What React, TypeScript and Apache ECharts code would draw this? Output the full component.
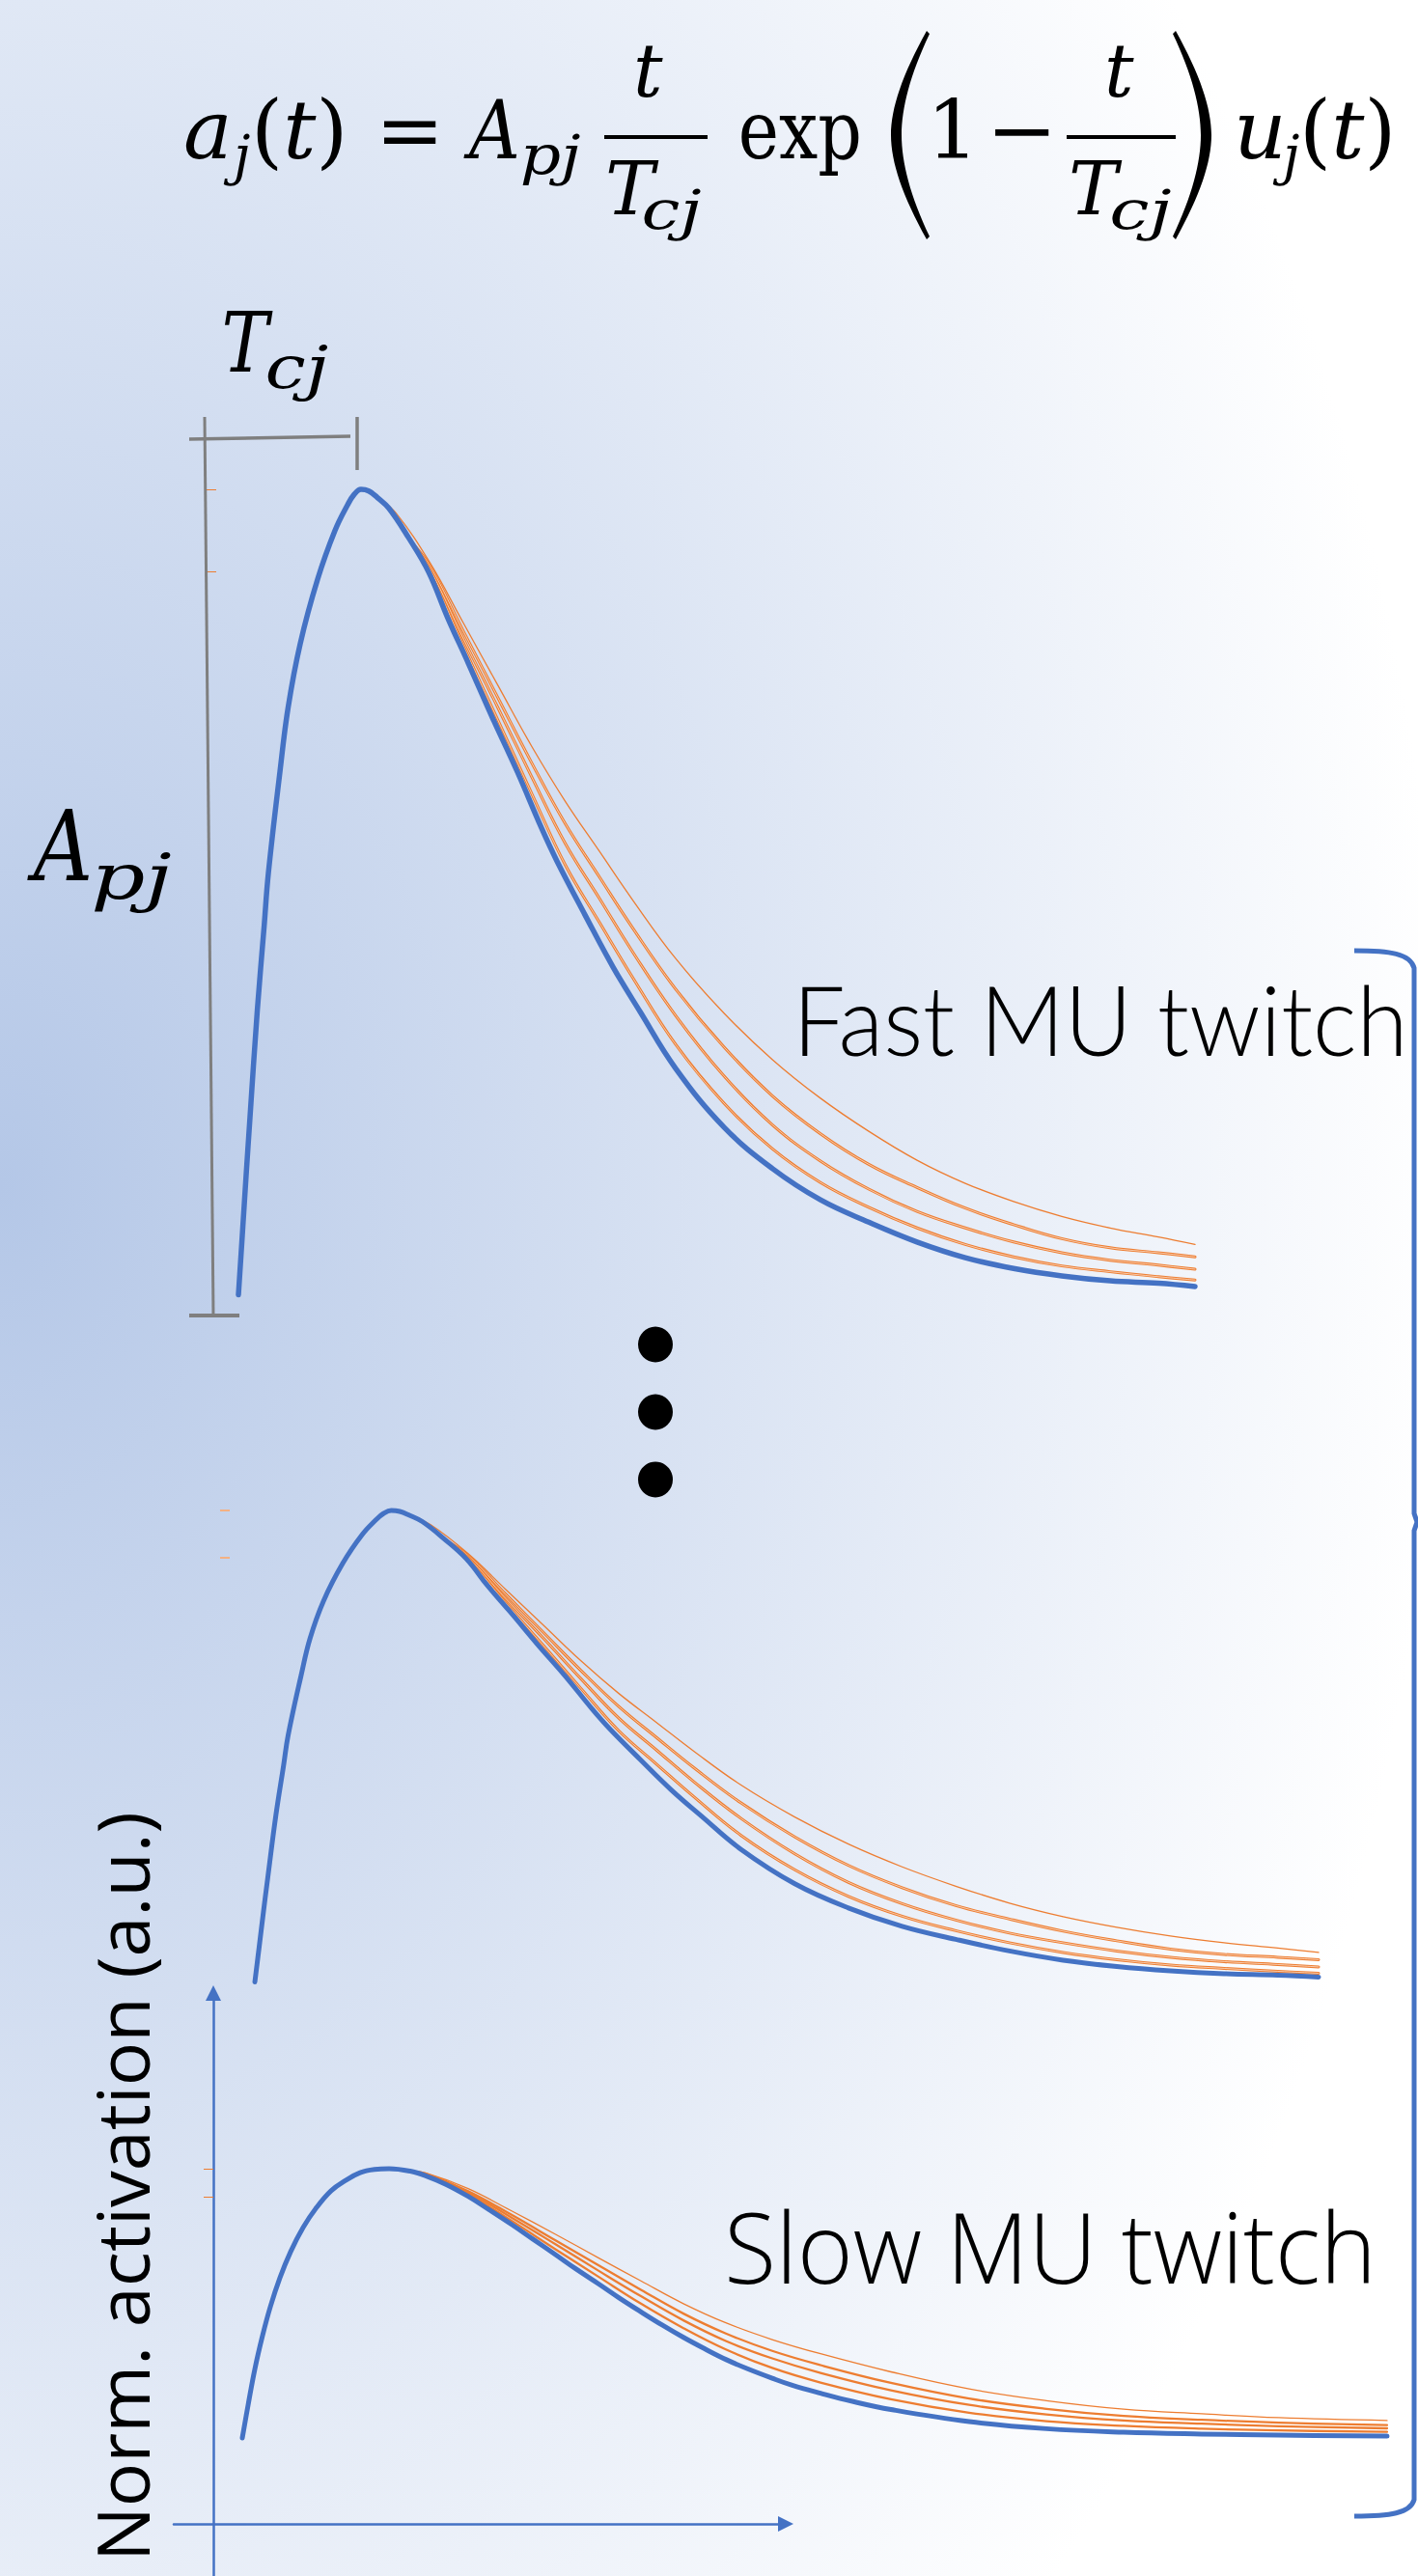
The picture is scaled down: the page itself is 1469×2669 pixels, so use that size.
import React, { useEffect, useRef } from "react";
import * as echarts from "echarts";

const W = 1469;
const H = 2669;
const BLUE = "#4472c4";
const ORANGE = "#ed7d31";
const GRAY = "#7f7f7f";

// ---------- data: [time (a.u.), normalized activation] ----------
// fast MU twitch (top panel; the middle panel reads the same once normalized)
const fastRise = [[0.2,0.025],[0.6,0.097],[1.0,0.17],[1.4,0.24],[2.16,0.37],[2.87,0.472],[3.3,0.535],[4.5,0.658],[5.35,0.736],[6.6,0.813],[8.4,0.891],[10.2,0.95],[11.5,0.981],[12.2,0.994],[12.9,1.0]];
const fastNearPeak = [[13.7,0.998],[14.6,0.99],[15.8,0.977],[17.8,0.942]];
const fastBlueFall = [[19.9,0.9],[21.9,0.844],[24.0,0.79],[26.5,0.724],[29.1,0.658],[31.6,0.59],[33.2,0.55],[36.1,0.485],[39.0,0.422],[41.8,0.368],[45.5,0.299],[50.5,0.228],[55.5,0.178],[60.5,0.14],[65.5,0.113],[70.5,0.089],[75.5,0.07],[80.5,0.057],[85.5,0.048],[90.5,0.042],[95.5,0.039],[99.3,0.035]];
const fastO1 = [[13.7,0.998],[14.6,0.991],[16.55,0.971],[20.05,0.911],[23.56,0.837],[27.07,0.763],[30.58,0.689],[34.08,0.622],[37.59,0.562],[41.1,0.502],[45.5,0.432],[50.5,0.366],[55.5,0.31],[60.5,0.263],[65.5,0.223],[70.5,0.188],[75.5,0.16],[80.5,0.138],[85.5,0.12],[90.5,0.106],[95.5,0.095],[99.3,0.086]];
const fastO2 = [[20.05,0.907],[23.56,0.827],[27.07,0.748],[30.58,0.669],[34.08,0.595],[37.59,0.531],[41.1,0.468],[45.5,0.395],[50.5,0.325],[55.5,0.266],[60.5,0.22],[65.5,0.183],[70.5,0.155],[75.5,0.13],[80.5,0.11],[85.5,0.093],[90.5,0.082],[95.5,0.076],[99.3,0.071]];
const fastO3 = [[20.05,0.903],[23.56,0.818],[27.07,0.736],[30.58,0.652],[34.08,0.571],[37.59,0.505],[41.1,0.439],[45.5,0.363],[50.5,0.29],[55.5,0.231],[60.5,0.187],[65.5,0.153],[70.5,0.126],[75.5,0.106],[80.5,0.089],[85.5,0.076],[90.5,0.067],[95.5,0.061],[99.3,0.056]];
const fastO4 = [[20.05,0.899],[23.56,0.809],[27.07,0.721],[30.58,0.632],[34.08,0.545],[37.59,0.476],[41.1,0.408],[45.5,0.328],[50.5,0.257],[55.5,0.202],[60.5,0.161],[65.5,0.131],[70.5,0.106],[75.5,0.086],[80.5,0.071],[85.5,0.06],[90.5,0.053],[95.5,0.047],[99.3,0.043]];

// slow MU twitch (bottom panel)
const slowRise = [[2.46,0.242],[2.95,0.334],[3.52,0.435],[4.18,0.53],[4.84,0.611],[5.66,0.693],[6.56,0.766],[7.62,0.834],[8.77,0.891],[10.0,0.938],[11.23,0.967],[12.46,0.989],[13.69,0.998],[14.92,1.0]];
const slowNearPeak = [[16.72,0.993]];
const slowBlueFall = [[18.03,0.98],[19.75,0.956],[21.64,0.922],[23.44,0.884],[25.33,0.843],[27.13,0.802],[29.02,0.759],[30.74,0.719],[32.7,0.676],[34.43,0.637],[36.31,0.597],[38.11,0.56],[39.92,0.525],[41.72,0.493],[43.52,0.463],[45.41,0.436],[47.46,0.41],[49.1,0.391],[51.56,0.368],[54.26,0.345],[57.54,0.322],[64.18,0.288],[70.74,0.268],[77.3,0.258],[83.93,0.253],[90.49,0.25],[99.67,0.247]];
const slowT = [18.03,21.64,25.33,29.02,32.7,36.31,39.92,43.52,47.46,51.56,57.54,64.18,70.74,77.3,83.93,90.49,99.67];
const slowO1 = [0.988,0.944,0.881,0.816,0.749,0.684,0.62,0.566,0.519,0.479,0.428,0.38,0.347,0.323,0.31,0.299,0.291];
const slowO2 = [0.986,0.937,0.87,0.799,0.728,0.659,0.592,0.536,0.487,0.447,0.397,0.353,0.324,0.304,0.293,0.285,0.278];
const slowO3 = [0.984,0.933,0.862,0.788,0.713,0.641,0.573,0.515,0.466,0.425,0.376,0.335,0.308,0.291,0.282,0.275,0.269];
const slowO4 = [0.982,0.928,0.853,0.774,0.696,0.62,0.551,0.491,0.439,0.398,0.351,0.313,0.289,0.276,0.268,0.263,0.259];

// marked levels on the activation axes
const fastTicks = [0.9, 1.0];
const midTicks = [0.902, 1.0];
const slowTicks = [0.921, 1.0];

// texts
const LABEL_FAST = "Fast MU twitch";
const LABEL_SLOW = "Slow MU twitch";
const LABEL_Y = "Norm. activation (a.u.)";

// ---------- shapes ----------
const LPAREN = "M37 0 C12 45 0 80 0 108 C0 136 12 171 37 216 L40 213 C20 171 11 136 11 108 C11 80 20 45 40 3 Z";
const RPAREN = "M0 0 C25 45 37 80 37 108 C37 136 25 171 0 216 L-3 213 C17 171 26 136 26 108 C26 80 17 45 -3 3 Z";
const BRACE = "M1403 985 C1440 985 1461 988 1465 1003 L1465 1568 L1468 1577 L1465 1586 L1465 2590 C1461 2604 1440 2607 1403 2607";

function registerShapes() {
  echarts.graphic.registerShape("lparen", echarts.graphic.extendPath(LPAREN, {}));
  echarts.graphic.registerShape("rparen", echarts.graphic.extendPath(RPAREN, {}));
  echarts.graphic.registerShape("brace", echarts.graphic.extendPath(BRACE, {}));
}

type F = { family: string; size: number; italic?: boolean; weight?: number | string };
let mctx: CanvasRenderingContext2D | null = null;
function meas(text: string, f: F) {
  if (!mctx) mctx = document.createElement("canvas").getContext("2d");
  const font = `${f.italic ? "italic" : "normal"} ${f.weight ?? "normal"} ${f.size}px ${f.family}`;
  mctx!.font = font;
  const m = mctx!.measureText(text);
  const l = m.actualBoundingBoxLeft || 0;
  const r = m.actualBoundingBoxRight || m.width;
  const fa = m.fontBoundingBoxAscent ?? f.size * 0.9;
  const fd = m.fontBoundingBoxDescent ?? f.size * 0.22;
  return { l, r, central: (fa - fd) / 2 };
}
function styleOf(text: string, f: F) {
  return {
    text,
    fontFamily: f.family,
    fontSize: f.size,
    fontStyle: f.italic ? "italic" : "normal",
    fontWeight: f.weight ?? "normal",
    fill: "#000",
    textAlign: "left",
    textVerticalAlign: "middle",
    align: "left",
    verticalAlign: "middle",
  };
}
function txt(text: string, f: F, inkLeft: number, baseline: number, fitW?: number) {
  const m = meas(text, f);
  const s = fitW ? fitW / (m.l + m.r) : 1;
  return { type: "text", x: inkLeft + s * m.l, y: baseline - m.central, scaleX: s, z: 10, silent: true, style: styleOf(text, f) };
}
// "(t)" with upright parentheses and italic t, as one rich text
function parenT(f: F, inkLeft: number, baseline: number) {
  const m = meas("(", { ...f, italic: false });
  const base = styleOf("{u|(}{i|t}{u|)}", f);
  return {
    type: "text", x: inkLeft + m.l, y: baseline - m.central, z: 10, silent: true,
    style: {
      ...base,
      rich: {
        u: { fontFamily: f.family, fontSize: f.size, fontStyle: "normal", fill: "#000" },
        i: { fontFamily: f.family, fontSize: f.size, fontStyle: "italic", fill: "#000" },
      },
    },
  };
}
function vtxt(text: string, f: F, bottomY: number, topY: number, baselineX: number) {
  const m = meas(text, f);
  const s = (bottomY - topY) / (m.l + m.r);
  return { type: "text", x: baselineX - m.central, y: bottomY - s * m.l, rotation: Math.PI / 2, scaleX: s, z: 10, silent: true, style: styleOf(text, f) };
}

function line(idx: number, data: number[][], color: string, width: number, z: number, opacity = 1) {
  return {
    type: "line", xAxisIndex: idx, yAxisIndex: idx, data, showSymbol: false, symbol: "none",
    smooth: 0.4, clip: false, silent: true, z, emphasis: { disabled: true },
    lineStyle: { color, width, cap: "round", join: "round", opacity },
  };
}

function fastPanel(idx: number, blueW: number) {
  const pre = fastRise.concat(fastNearPeak);
  const out: any[] = [];
  out.push(line(idx, fastRise.concat(fastO1), ORANGE, 1.3, 2));
  for (const tail of [fastO2, fastO3, fastO4]) {
    out.push(line(idx, pre.concat(tail), ORANGE, 3, 2));
    out.push(line(idx, pre.concat(tail), "#ffffff", 0.8, 2, 0.75));
  }
  out.push(line(idx, pre.concat(fastBlueFall), BLUE, blueW, 3));
  return out;
}
function slowPanel(idx: number) {
  const pre = slowRise.concat(slowNearPeak);
  const tail = (vals: number[]) => slowT.map((t, i) => [t, vals[i]]);
  return [
    line(idx, pre.concat(tail(slowO1)), ORANGE, 1.3, 2),
    line(idx, pre.concat(tail(slowO2)), ORANGE, 2.3, 2),
    line(idx, pre.concat(tail(slowO3)), ORANGE, 2.3, 2),
    line(idx, pre.concat(tail(slowO4)), ORANGE, 2.3, 2),
    line(idx, pre.concat(slowBlueFall), BLUE, 5, 3),
  ];
}

const hiddenX = (idx: number, max = 100) => ({ gridIndex: idx, type: "value", min: 0, max, show: false });
const hiddenY = (idx: number) => ({ gridIndex: idx, type: "value", min: 0, max: 1, show: false });
function tickY(idx: number, ticks: number[], color: string, width: number) {
  return {
    gridIndex: idx, type: "value", min: 0, max: 1,
    axisLine: { show: false }, axisLabel: { show: false }, splitLine: { show: false },
    axisTick: { show: true, customValues: ticks, length: 10, lineStyle: { color, width } },
  };
}

function buildOption() {
  const serif: F = { family: "DejaVu Serif", size: 85, italic: true };
  const serifUp: F = { family: "DejaVu Serif", size: 85 };
  const frac: F = { family: "DejaVu Serif", size: 76, italic: true };
  const sub: F = { family: "DejaVu Serif", size: 56, italic: true };
  const gl = (x1: number, y1: number, x2: number, y2: number, w: number) => ({
    type: "line", z: 1, silent: true, shape: { x1, y1, x2, y2 }, style: { stroke: GRAY, lineWidth: w },
  });
  const dot = (cy: number) => ({ type: "ellipse", z: 10, silent: true, shape: { cx: 679, cy, rx: 18, ry: 18.5 }, style: { fill: "#000" } });
  const bar = (x: number, w: number) => ({ type: "rect", z: 10, silent: true, shape: { x, y: 140, width: w, height: 4 }, style: { fill: "#000" } });

  const elements: any[] = [
    // equation
    txt("a", serif, 192, 164),
    txt("j", sub, 231, 180),
    parenT(serif, 266, 164),
    txt("=", serifUp, 398, 164, 54),
    txt("A", serif, 480, 164, 56),
    txt("pj", sub, 541, 180, 60),
    bar(626, 107),
    txt("t", frac, 660, 100),
    txt("T", frac, 630, 222),
    txt("cj", sub, 667, 237, 59),
    txt("exp", serifUp, 768, 164, 122),
    { type: "lparen", x: 923, y: 32, z: 10, silent: true, style: { fill: "#000" } },
    txt("1", serifUp, 970, 164),
    txt("\u2212", serifUp, 1031, 164, 56),
    bar(1105, 113),
    txt("t", frac, 1148, 100),
    txt("T", frac, 1110, 222),
    txt("cj", sub, 1152, 237, 61),
    { type: "rparen", x: 1218, y: 32, z: 10, silent: true, style: { fill: "#000" } },
    txt("u", serif, 1283, 164),
    txt("j", sub, 1318, 180),
    parenT(serif, 1352, 164),
    // parameter labels
    txt("T", { family: "DejaVu Serif", size: 86, italic: true }, 233, 385, 50),
    txt("cj", { family: "DejaVu Serif", size: 62, italic: true }, 277, 402, 63),
    txt("A", { family: "DejaVu Serif", size: 101, italic: true }, 28, 912, 64),
    txt("pj", { family: "DejaVu Serif", size: 66, italic: true }, 97, 931, 80),
    // gray brackets
    gl(212, 432, 221, 1363, 3),
    gl(196, 455, 363, 452, 3.5),
    gl(370, 432, 370, 487, 3.5),
    gl(196, 1363, 248, 1363, 4),
    // ellipsis
    dot(1393), dot(1463), dot(1533),
    // brace
    { type: "brace", x: 0, y: 0, z: 5, silent: true, style: { stroke: BLUE, lineWidth: 5, fill: "none" } },
    // labels
    txt(LABEL_FAST, { family: "Lato", size: 100, weight: 300 }, 831, 1094, 621),
    txt(LABEL_SLOW, { family: "Open Sans", size: 102, weight: 300 }, 755, 2366, 663),
    vtxt(LABEL_Y, { family: "Open Sans", size: 75, weight: 400 }, 2647, 1879, 155),
  ];

  const axisLineBlue = {
    show: true, onZero: true, symbol: ["none", "triangle"], symbolSize: [16, 16],
    lineStyle: { color: BLUE, width: 2.5 },
  };

  return {
    animation: false,
    backgroundColor: "transparent",
    grid: [
      { left: 245, top: 507, width: 1000, height: 856 },   // 0 fast curves
      { left: 261.8, top: 1565, width: 1112, height: 501 }, // 1 middle curves
      { left: 180, top: 2065, width: 634, height: 604 },    // 2 slow axes
      { left: 221, top: 2247, width: 1220, height: 368 },   // 3 slow curves
      { left: 224, top: 507, width: 1, height: 856 },       // 4 fast ticks
      { left: 238, top: 1565, width: 1, height: 501 },      // 5 middle ticks
    ],
    xAxis: [
      hiddenX(0),
      hiddenX(1),
      {
        gridIndex: 2, type: "value", min: -3.3607, max: 48.607,
        axisLine: axisLineBlue, axisTick: { show: false }, axisLabel: { show: false }, splitLine: { show: false },
      },
      hiddenX(3),
      hiddenX(4, 1),
      hiddenX(5, 1),
    ],
    yAxis: [
      hiddenY(0),
      hiddenY(1),
      {
        gridIndex: 2, type: "value", min: -0.1467, max: 1.4946,
        axisLine: axisLineBlue, axisLabel: { show: false }, splitLine: { show: false },
        axisTick: { show: true, customValues: slowTicks, length: 10, lineStyle: { color: ORANGE, width: 1 } },
      },
      hiddenY(3),
      tickY(4, fastTicks, ORANGE, 1),
      tickY(5, midTicks, "#f4b183", 2),
    ],
    series: [...fastPanel(0, 5.5), ...fastPanel(1, 5), ...slowPanel(3)],
    graphic: { elements },
  };
}

export default function App() {
  const ref = useRef<HTMLDivElement>(null);
  useEffect(() => {
    if (!ref.current) return;
    registerShapes();
    const chart = echarts.init(ref.current, undefined, { renderer: "svg", width: W, height: H });
    chart.setOption(buildOption() as any);
    return () => chart.dispose();
  }, []);
  return (
    <div
      ref={ref}
      style={{
        position: "absolute",
        left: 0,
        top: 0,
        width: W,
        height: H,
        background: "radial-gradient(ellipse 1500px 2100px at 0px 1230px, #b4c7e7 0%, #ffffff 100%)",
      }}
    />
  );
}
